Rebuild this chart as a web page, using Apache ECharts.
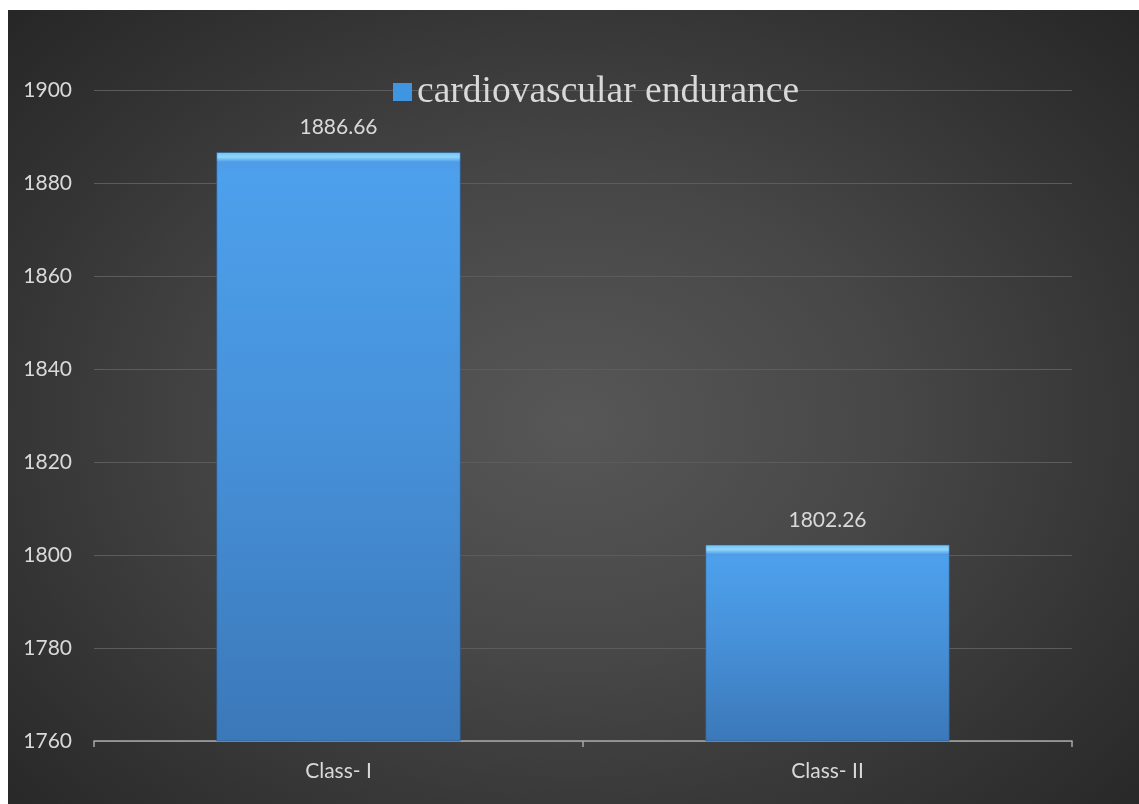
<!DOCTYPE html>
<html>
<head>
<meta charset="utf-8">
<script src="https://cdn.jsdelivr.net/npm/echarts@6/dist/echarts.min.js"></script>
<style>
  html, body { margin: 0; padding: 0; background: #ffffff; width: 1139px; height: 804px; overflow: hidden; }
  #panel {
    position: absolute; left: 8px; top: 10px; width: 1131px; height: 794px;
    background: radial-gradient(ellipse 70% 75% at 50% 52%, #575757 0%, #474747 40%, #333333 75%, #262626 100%);
  }
  #chart { width: 100%; height: 100%; }
</style>
</head>
<body>
<div id="panel"><div id="chart"></div></div>
<script>
// Cardiovascular endurance by class
const categories = ['Class- I', 'Class- II'];
const seriesName = 'cardiovascular endurance';
const values = [1886.66, 1802.26];
const yTicks = [1760, 1780, 1800, 1820, 1840, 1860, 1880, 1900];

const yMin = yTicks[0];
const yMax = yTicks[yTicks.length - 1];
const plotHeight = 651;               // pixel height of the grid
const pxPerUnit = plotHeight / (yMax - yMin);

// Bevelled blue fill: a thin bright strip at the top of each bar, then a soft vertical fade
function barFill(v) {
  const h = Math.max((v - yMin) * pxPerUnit, 1);
  const b = Math.min(10 / h, 0.2);
  return {
    type: 'linear', x: 0, y: 0, x2: 0, y2: 1,
    colorStops: [
      { offset: 0, color: '#6cc3f5' },
      { offset: b * 0.5, color: '#8fd6fa' },
      { offset: b, color: '#4f9be8' },
      { offset: b + 0.02, color: '#4da0ec' },
      { offset: 0.5, color: '#4690d8' },
      { offset: 1, color: '#3b78b8' }
    ]
  };
}

const chart = echarts.init(document.getElementById('chart'));
const textColor = '#d9d9d9';
const sans = 'Lato, "Open Sans", sans-serif';

chart.setOption({
  backgroundColor: 'transparent',
  animation: false,
  legend: {
    top: 58,
    left: 380,
    itemWidth: 19,
    itemHeight: 18,
    itemGap: 8,
    icon: 'rect',
    textStyle: { color: textColor, fontSize: 37.5, fontFamily: '"Liberation Serif", "DejaVu Serif", serif', padding: [0, 0, 0, 0] },
    itemStyle: { color: '#3f95df' },
    data: [seriesName]
  },
  grid: { left: 86, right: 67, top: 80, bottom: 63 },
  xAxis: {
    type: 'category',
    data: categories,
    axisLine: { show: true, lineStyle: { color: '#a8a8a8', width: 1.5 } },
    axisTick: { show: true, alignWithLabel: false, length: 6, lineStyle: { color: '#a8a8a8', width: 1.5 } },
    axisLabel: { color: textColor, fontSize: 21, fontFamily: sans, margin: 20 }
  },
  yAxis: {
    type: 'value',
    min: yMin,
    max: yMax,
    interval: yTicks[1] - yTicks[0],
    axisLine: { show: false },
    axisTick: { show: false },
    axisLabel: { color: textColor, fontSize: 21, fontFamily: sans, margin: 22, formatter: v => String(v) },
    splitLine: { show: true, lineStyle: { color: '#5c5c5c', width: 1 } }
  },
  series: [{
    name: seriesName,
    type: 'bar',
    barWidth: '50%',
    data: values.map(v => ({
      value: v,
      itemStyle: { color: barFill(v), borderColor: 'rgba(40,90,150,0.6)', borderWidth: 1 }
    })),
    label: {
      show: true,
      position: 'top',
      distance: 14,
      color: textColor,
      fontSize: 21,
      fontFamily: sans,
      formatter: p => p.value.toFixed(2)
    }
  }]
});
</script>
</body>
</html>
